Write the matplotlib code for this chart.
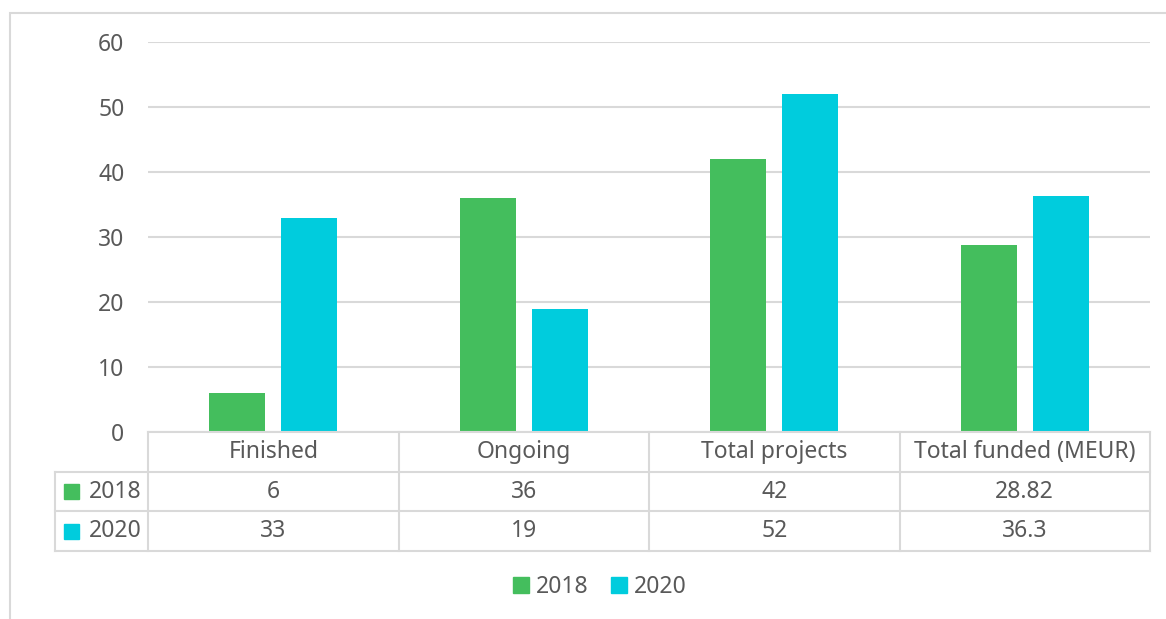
import matplotlib.pyplot as plt
from matplotlib.patches import Rectangle

plt.rcParams['font.family'] = ['Noto Sans', 'DejaVu Sans']

categories = ['Finished', 'Ongoing', 'Total projects', 'Total funded (MEUR)']
years = ['2018', '2020']
vals_2018 = [6, 36, 42, 28.82]
vals_2020 = [33, 19, 52, 36.3]
labels_2018 = ['6', '36', '42', '28.82']
labels_2020 = ['33', '19', '52', '36.3']
yticks = [0, 10, 20, 30, 40, 50, 60]

green = '#44be5d'
cyan = '#00ccdd'
grid = '#d9d9d9'
txt = '#595959'
fs = 16.5

W, H = 1166, 619
fig = plt.figure(figsize=(W / 100, H / 100), dpi=100)

# light frame around the chart
fig.patches.append(Rectangle((10 / W, -0.1), 1.2, (H - 13) / H + 0.1,
                             transform=fig.transFigure, fill=False,
                             edgecolor=grid, lw=1.5))

# bar area
x0, x1 = 148, 1150
ytop, ybot = 42, 432
ax = fig.add_axes([x0 / W, (H - ybot) / H, (x1 - x0) / W, (ybot - ytop) / H])
pos = list(range(len(categories)))
bw = 0.224
off = 0.144
ax.bar([p - off for p in pos], vals_2018, width=bw, color=green, zorder=3)
ax.bar([p + off for p in pos], vals_2020, width=bw, color=cyan, zorder=3)
ax.set_xlim(-0.5, 3.5)
ax.set_ylim(0, 60)
ax.set_yticks(yticks)
ax.set_xticks([])
ax.yaxis.grid(True, color=grid, lw=1.5)
ax.tick_params(axis='y', length=0, pad=17, labelsize=fs, labelcolor=txt)
for s in ax.spines.values():
    s.set_visible(False)

# data table below the bars
unit = (x1 - x0) / 4
left = -0.5 - (x0 - 55) / unit
tb = fig.add_axes([55 / W, (H - 551) / H, (x1 - 55) / W, (551 - 432) / H])
tb.set_xlim(left, 3.5)
tb.set_ylim(3, 0)
tb.axis('off')
lk = dict(color=grid, lw=1.5, clip_on=False)
tb.plot([-0.5, 3.5], [0, 0], **lk)
for r in [1, 2, 3]:
    tb.plot([left, 3.5], [r, r], **lk)
for c in [-0.5, 0.5, 1.5, 2.5, 3.5]:
    tb.plot([c, c], [0, 3], **lk)
tb.plot([left, left], [1, 3], **lk)

for i, cat in enumerate(categories):
    tb.text(i, 0.5, cat, ha='center', va='center', fontsize=fs, color=txt)
    tb.text(i, 1.5, labels_2018[i], ha='center', va='center', fontsize=fs, color=txt)
    tb.text(i, 2.5, labels_2020[i], ha='center', va='center', fontsize=fs, color=txt)

for r, (yr, col) in enumerate(zip(years, [green, cyan])):
    tb.text(-0.525, r + 1.5, yr, ha='right', va='center', fontsize=fs, color=txt)
    tb.add_patch(Rectangle((left + 0.035, r + 1.5 - 0.19), 0.06, 0.38,
                           color=col, clip_on=False))

# legend
handles = [Rectangle((0, 0), 1, 1, color=green), Rectangle((0, 0), 1, 1, color=cyan)]
fig.legend(handles, years, loc='center', bbox_to_anchor=(600 / W, (H - 587) / H),
           ncol=2, frameon=False, fontsize=fs, labelcolor=txt,
           handlelength=0.7, handleheight=0.7, handletextpad=0.3,
           columnspacing=1.0)

fig.savefig('out.png', dpi=100)
